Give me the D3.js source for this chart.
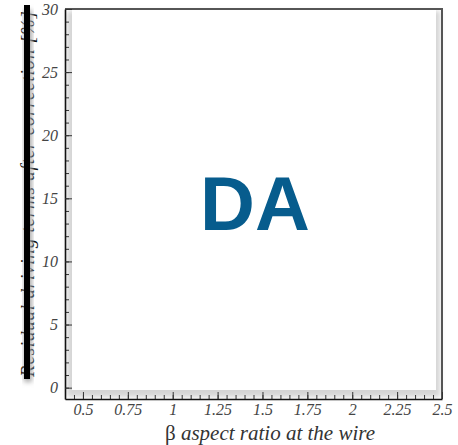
<!DOCTYPE html>
<html>
<head>
<meta charset="utf-8">
<script src="https://cdn.jsdelivr.net/npm/d3@7"></script>
<style>
  body { margin: 0; background: #fff; }
  svg { display: block; }
  .tk text { font-family: "Liberation Serif", "DejaVu Serif", serif; font-style: italic; font-size: 16px; fill: #444; }
  .tk line { stroke: #333; }
  .tk path { stroke: #111; stroke-width: 1.6; }
</style>
</head>
<body>
<div id="chart"></div>
<script>
// chart setup
let width = 458;
let height = 445;

// axis values
let xDomain = [0.4, 2.5];
let yDomain = [-0.9, 30];
let xTicks = [0.5, 0.75, 1, 1.25, 1.5, 1.75, 2, 2.25, 2.5];
let xTickLabels = ["0.5", "0.75", "1", "1.25", "1.5", "1.75", "2", "2.25", "2.5"];
let yTicks = [0, 5, 10, 15, 20, 25, 30];
let yTickLabels = ["0", "5", "10", "15", "20", "25", "30"];
let xMinorStep = 0.05;
let yMinorStep = 1;
let xTitle = "aspect ratio at the  wire";
let yTitle = "Residual driving terms after correction [%]";
let watermark = "DA";

let svg = d3.select("#chart")
    .append("svg")
    .attr("width", width)
    .attr("height", height);

let xScale = d3.scaleLinear().domain(xDomain).range([65, 442]);
let yScale = d3.scaleLinear().domain(yDomain).range([399, 9]);

let defs = svg.append("defs");
let blur = defs.append("filter").attr("id", "soft")
    .attr("x", "-20%").attr("y", "-20%").attr("width", "140%").attr("height", "140%");
blur.append("feGaussianBlur").attr("stdDeviation", 2.5);

// shaded plot panel
let x0 = xScale(0.4), x1 = xScale(2.5), y0 = yScale(30), y1 = yScale(-0.9);
svg.append("rect")
    .attr("x", x0 + 2)
    .attr("y", y0 + 2)
    .attr("width", x1 - x0 - 4)
    .attr("height", y1 - y0 - 4)
    .attr("fill", "#d4d4d4")
    .attr("filter", "url(#soft)");
svg.append("rect")
    .attr("x", x0 + 7)
    .attr("y", y0 + 1)
    .attr("width", x1 - x0 - 13)
    .attr("height", y1 - y0 - 10)
    .attr("fill", "#fff");

// frame top / right
svg.append("path")
    .attr("d", "M" + x0 + "," + y0 + "H" + x1 + "V" + y1)
    .attr("fill", "none")
    .attr("stroke", "#555")
    .attr("stroke-width", 2);

// minor ticks
let xMinor = d3.range(0.4, 2.5001, xMinorStep).filter(v => v > 0.401);
let yMinor = d3.range(0, 30.001, yMinorStep);

svg.append("g")
    .attr("class", "tk")
    .attr("transform", "translate(0," + y1 + ")")
    .call(d3.axisBottom(xScale).tickValues(xMinor).tickSize(-4).tickFormat(""))
    .select(".domain").remove();

svg.append("g")
    .attr("class", "tk")
    .attr("transform", "translate(" + x0 + ",0)")
    .call(d3.axisLeft(yScale).tickValues(yMinor).tickSize(-4).tickFormat(""))
    .select(".domain").remove();

// major ticks
let xAxis = d3.axisBottom(xScale)
    .tickValues(xTicks)
    .tickSizeInner(-7).tickSizeOuter(0).tickPadding(5)
    .tickFormat((d, i) => xTickLabels[i]);
svg.append("g")
    .attr("class", "tk")
    .attr("transform", "translate(0," + y1 + ")")
    .call(xAxis);

let yAxis = d3.axisLeft(yScale)
    .tickValues(yTicks)
    .tickSizeInner(-7).tickSizeOuter(0).tickPadding(7)
    .tickFormat((d, i) => yTickLabels[i]);
svg.append("g")
    .attr("class", "tk")
    .attr("transform", "translate(" + x0 + ",0)")
    .call(yAxis);

// x title
let xt = svg.append("text")
    .attr("x", 270)
    .attr("y", 440)
    .attr("text-anchor", "middle")
    .attr("font-family", "Liberation Serif, serif")
    .attr("font-size", 21)
    .attr("fill", "#333");
xt.append("tspan").text("\u03b2 ");
xt.append("tspan").attr("font-style", "italic").text(xTitle);

// y title, half hidden by the heavy bar
svg.append("text")
    .attr("transform", "translate(34,194) rotate(-90)")
    .attr("text-anchor", "middle")
    .attr("textLength", 366)
    .attr("font-family", "Liberation Serif, serif")
    .attr("font-style", "italic")
    .attr("font-size", 19)
    .attr("fill", "#111")
    .text(yTitle);

svg.append("rect")
    .attr("x", 24).attr("y", 10)
    .attr("width", 8).attr("height", 372)
    .attr("fill", "#aaa")
    .attr("filter", "url(#soft)");
svg.append("rect")
    .attr("x", 24).attr("y", 5)
    .attr("width", 6).attr("height", 374)
    .attr("fill", "#000");

// watermark
svg.append("text")
    .attr("x", 255)
    .attr("y", 230)
    .attr("text-anchor", "middle")
    .attr("font-family", "Liberation Sans, Arial, sans-serif")
    .attr("font-weight", "bold")
    .attr("font-size", 76)
    .attr("fill", "#075c8d")
    .text(watermark);
</script>
</body>
</html>
